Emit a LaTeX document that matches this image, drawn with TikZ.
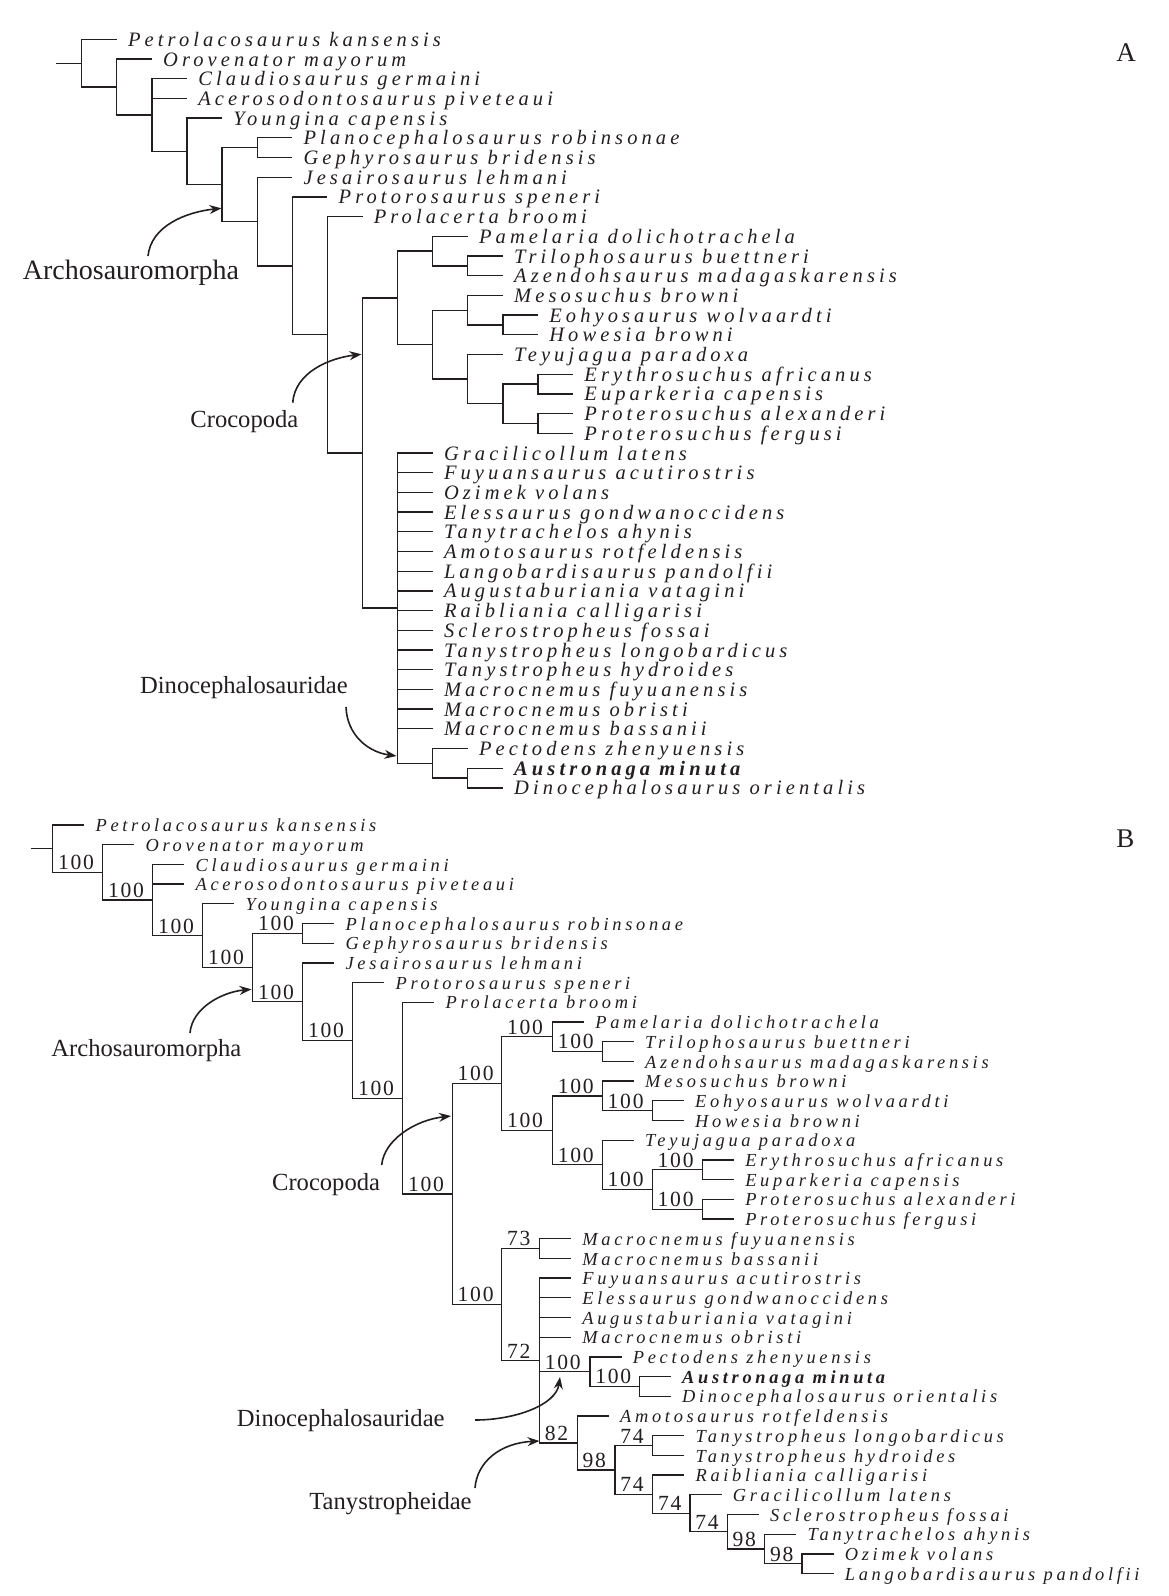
\documentclass[tikz,border=0pt]{standalone}
\usepackage{fontspec}
\setmainfont{Liberation Serif}
\newfontfamily\taxfont{Liberation Serif}[LetterSpace=20]
\newfontfamily\supfont{Liberation Serif}[LetterSpace=8]
\usetikzlibrary{calc,arrows.meta}
\definecolor{ink}{RGB}{35,31,32}
\tikzset{
  br/.style={draw=ink, line width=0.65pt, line cap=rect},
  taxon/.style={anchor=base west, inner sep=0pt, text=ink, font={\taxfont\fontsize{10.25}{12}\selectfont\itshape}},
  taxbold/.style={anchor=base west, inner sep=0pt, text=ink, font={\taxfont\fontsize{10.25}{12}\selectfont\bfseries\itshape}},
  taxonB/.style={anchor=base west, inner sep=0pt, text=ink, yshift=0.2pt, font={\taxfont\fontsize{9.2}{11}\selectfont\itshape}},
  taxboldB/.style={anchor=base west, inner sep=0pt, text=ink, yshift=0.2pt, font={\taxfont\fontsize{9.2}{11}\selectfont\bfseries\itshape}},
  sup/.style={anchor=south west, inner sep=0pt, text=ink, font={\supfont\fontsize{10.8}{12}\selectfont}},
  clade/.style={anchor=base west, inner sep=0pt, text=ink, font={\fontsize{12.3}{14}\selectfont}},
  bigclade/.style={anchor=base west, inner sep=0pt, text=ink, font={\fontsize{14}{16}\selectfont}},
  panel/.style={anchor=base west, inner sep=0pt, text=ink, font={\fontsize{13.5}{15}\selectfont}},
  cladearrow/.style={draw=ink, line width=0.8pt, -{Stealth[length=6pt,width=4.5pt]}}
}
% #1 style, #2 name, #3 parent, #4 end x, #5 y, #6 text
\newcommand{\mkleaf}[6]{%
  \coordinate (#2e) at (#4,#5);
  \draw[br] (#3 |- #2e) -- (#2e);
  \node[#1] (#2) at ($(#2e)+(11.5,7)$) {#6};}
\newcommand{\mkedge}[2]{\draw[br] (#1 |- #2) -- (#2);}
\newcommand{\mksup}[3]{%
  \draw[br] (#1 |- #2) -- (#2);
  \node[sup] (s#2) at ($(#1 |- #2)+(5,-2)$) {#3};}
\newcommand{\mkvert}[3]{\draw[br] (#1 |- #2) -- (#1 |- #3);}
\begin{document}
\begin{tikzpicture}[x=0.5pt,y=-0.5pt]
\fill[white] (0,0) rectangle (1168,1596);
\useasboundingbox (0,0) rectangle (1168,1596);

%%%%%%%%%%%%%%%% PANEL A %%%%%%%%%%%%%%%%
\node[panel] (labA) at (1116,61.7) {A};
\coordinate (rA) at (57,63.15);
\coordinate (n1A) at (81.7,63.15);
\coordinate (n2A) at (116.8,87.0);
\coordinate (n3A) at (151.9,115.03);
\coordinate (n4A) at (187.0,151.35);
\coordinate (n5A) at (222.1,184.59);
\coordinate (n6A) at (257.2,147.65);
\coordinate (n7A) at (257.2,221.53);
\coordinate (n8A) at (292.3,265.85);
\coordinate (n9A) at (327.4,334.8);
\coordinate (n10A) at (362.5,453.0);
\coordinate (crocA) at (397.6,297.87);
\coordinate (aA) at (432.7,251.08);
\coordinate (triA) at (467.8,265.85);
\coordinate (bA) at (432.7,344.65);
\coordinate (cA) at (467.8,310.18);
\coordinate (eohA) at (502.9,324.95);
\coordinate (dA) at (467.8,379.13);
\coordinate (eA) at (502.9,403.75);
\coordinate (eryA) at (538,384.05);
\coordinate (proA) at (538,423.45);
\coordinate (polyA) at (397.6,608.14);
\coordinate (dnA) at (432.7,763.28);
\coordinate (ausA) at (467.8,778.05);

\draw[br] (rA) -- (n1A);
\mkedge{n1A}{n2A}
\mkedge{n2A}{n3A}
\mkedge{n3A}{n4A}
\mkedge{n4A}{n5A}
\mkedge{n5A}{n6A}
\mkedge{n5A}{n7A}
\mkedge{n7A}{n8A}
\mkedge{n8A}{n9A}
\mkedge{n9A}{n10A}
\mkedge{n10A}{crocA}
\mkedge{n10A}{polyA}
\mkedge{crocA}{aA}
\mkedge{crocA}{bA}
\mkedge{aA}{triA}
\mkedge{bA}{cA}
\mkedge{bA}{dA}
\mkedge{cA}{eohA}
\mkedge{dA}{eA}
\mkedge{eA}{eryA}
\mkedge{eA}{proA}
\mkedge{polyA}{dnA}
\mkedge{dnA}{ausA}

\mkleaf{taxon}{a0}{n1A}{116.2}{39.3}{Petrolacosaurus kansensis}
\mkleaf{taxon}{a1}{n2A}{151.3}{59.0}{Orovenator mayorum}
\mkleaf{taxon}{a2}{n3A}{186.4}{78.7}{Claudiosaurus germaini}
\mkleaf{taxon}{a3}{n3A}{186.4}{98.4}{Acerosodontosaurus piveteaui}
\mkleaf{taxon}{a4}{n4A}{221.5}{118.1}{Youngina capensis}
\mkleaf{taxon}{a5}{n6A}{291.7}{137.8}{Planocephalosaurus robinsonae}
\mkleaf{taxon}{a6}{n6A}{291.7}{157.5}{Gephyrosaurus bridensis}
\mkleaf{taxon}{a7}{n7A}{291.7}{177.2}{Jesairosaurus lehmani}
\mkleaf{taxon}{a8}{n8A}{326.8}{196.9}{Protorosaurus speneri}
\mkleaf{taxon}{a9}{n9A}{361.9}{216.6}{Prolacerta broomi}
\mkleaf{taxon}{a10}{aA}{467.2}{236.3}{Pamelaria dolichotrachela}
\mkleaf{taxon}{a11}{triA}{502.3}{256.0}{Trilophosaurus buettneri}
\mkleaf{taxon}{a12}{triA}{502.3}{275.7}{Azendohsaurus madagaskarensis}
\mkleaf{taxon}{a13}{cA}{502.3}{295.4}{Mesosuchus browni}
\mkleaf{taxon}{a14}{eohA}{537.4}{315.1}{Eohyosaurus wolvaardti}
\mkleaf{taxon}{a15}{eohA}{537.4}{334.8}{Howesia browni}
\mkleaf{taxon}{a16}{dA}{502.3}{354.5}{Teyujagua paradoxa}
\mkleaf{taxon}{a17}{eryA}{572.5}{374.2}{Erythrosuchus africanus}
\mkleaf{taxon}{a18}{eryA}{572.5}{393.9}{Euparkeria capensis}
\mkleaf{taxon}{a19}{proA}{572.5}{413.6}{Proterosuchus alexanderi}
\mkleaf{taxon}{a20}{proA}{572.5}{433.3}{Proterosuchus fergusi}
\mkleaf{taxon}{a21}{polyA}{432.1}{453.0}{Gracilicollum latens}
\mkleaf{taxon}{a22}{polyA}{432.1}{472.7}{Fuyuansaurus acutirostris}
\mkleaf{taxon}{a23}{polyA}{432.1}{492.4}{Ozimek volans}
\mkleaf{taxon}{a24}{polyA}{432.1}{512.1}{Elessaurus gondwanoccidens}
\mkleaf{taxon}{a25}{polyA}{432.1}{531.8}{Tanytrachelos ahynis}
\mkleaf{taxon}{a26}{polyA}{432.1}{551.5}{Amotosaurus rotfeldensis}
\mkleaf{taxon}{a27}{polyA}{432.1}{571.2}{Langobardisaurus pandolfii}
\mkleaf{taxon}{a28}{polyA}{432.1}{590.9}{Augustaburiania vatagini}
\mkleaf{taxon}{a29}{polyA}{432.1}{610.6}{Raibliania calligarisi}
\mkleaf{taxon}{a30}{polyA}{432.1}{630.3}{Sclerostropheus fossai}
\mkleaf{taxon}{a31}{polyA}{432.1}{650.0}{Tanystropheus longobardicus}
\mkleaf{taxon}{a32}{polyA}{432.1}{669.7}{Tanystropheus hydroides}
\mkleaf{taxon}{a33}{polyA}{432.1}{689.4}{Macrocnemus fuyuanensis}
\mkleaf{taxon}{a34}{polyA}{432.1}{709.1}{Macrocnemus obristi}
\mkleaf{taxon}{a35}{polyA}{432.1}{728.8}{Macrocnemus bassanii}
\mkleaf{taxon}{a36}{dnA}{467.2}{748.5}{Pectodens zhenyuensis}
\mkleaf{taxbold}{a37}{ausA}{502.3}{768.2}{Austronaga minuta}
\mkleaf{taxon}{a38}{ausA}{502.3}{787.9}{Dinocephalosaurus orientalis}

\mkvert{n1A}{a0e}{n2A}
\mkvert{n2A}{a1e}{n3A}
\mkvert{n3A}{a2e}{n4A}
\mkvert{n4A}{a4e}{n5A}
\mkvert{n5A}{n6A}{n7A}
\mkvert{n6A}{a5e}{a6e}
\mkvert{n7A}{a7e}{n8A}
\mkvert{n8A}{a8e}{n9A}
\mkvert{n9A}{a9e}{n10A}
\mkvert{n10A}{crocA}{polyA}
\mkvert{crocA}{aA}{bA}
\mkvert{aA}{a10e}{triA}
\mkvert{triA}{a11e}{a12e}
\mkvert{bA}{cA}{dA}
\mkvert{cA}{a13e}{eohA}
\mkvert{eohA}{a14e}{a15e}
\mkvert{dA}{a16e}{eA}
\mkvert{eA}{eryA}{proA}
\mkvert{eryA}{a17e}{a18e}
\mkvert{proA}{a19e}{a20e}
\mkvert{polyA}{a21e}{dnA}
\mkvert{dnA}{a36e}{ausA}
\mkvert{ausA}{a37e}{a38e}

\node[bigclade] (archA) at (22.5,279) {Archosauromorpha};
\node[clade] (crocAl) at (190,427) {Crocopoda};
\node[clade] (dinoA) at (139.7,693) {Dinocephalosauridae};
\coordinate (archAs) at (148,256);
\coordinate (archAt) at (221.5,208.3);
\coordinate (crocAs) at (292.7,402.7);
\coordinate (crocAt) at (361.5,354.3);
\coordinate (dinoAs) at (346,707);
\coordinate (dinoAt) at (396.5,756);
\draw[cladearrow] (archAs) .. controls (151,226) and (186,212) .. (archAt);
\draw[cladearrow] (crocAs) .. controls (295,372) and (330,358) .. (crocAt);
\draw[cladearrow] (dinoAs) .. controls (347,735) and (368,752) .. (dinoAt);

%%%%%%%%%%%%%%%% PANEL B %%%%%%%%%%%%%%%%
\node[panel] (labB) at (1116,847.3) {B};
\coordinate (rB) at (31.7,848.68);
\coordinate (n1B) at (52.7,848.68);
\coordinate (n2B) at (102.7,872.35);
\coordinate (n3B) at (152.7,900.0);
\coordinate (n4B) at (202.7,935.65);
\coordinate (n5B) at (252.7,967.5);
\coordinate (n6B) at (302.7,933.35);
\coordinate (n7B) at (302.7,1001.64);
\coordinate (n8B) at (352.7,1040.38);
\coordinate (n9B) at (402.7,1098.17);
\coordinate (n10B) at (452.3,1194.03);
\coordinate (crocB) at (501.7,1083.56);
\coordinate (aB) at (552.5,1036.78);
\coordinate (triB) at (602.3,1051.55);
\coordinate (bB) at (552.5,1130.35);
\coordinate (cB) at (602.3,1095.88);
\coordinate (eohB) at (652.3,1110.65);
\coordinate (dB) at (602.3,1164.83);
\coordinate (eB) at (652.3,1189.45);
\coordinate (eryB) at (702.4,1169.75);
\coordinate (proB) at (702.4,1209.15);
\coordinate (lB) at (501.7,1304.5);
\coordinate (mB) at (539.5,1248.55);
\coordinate (nB) at (539.5,1360.5);
\coordinate (dnB) at (590,1371.68);
\coordinate (ausB) at (639.3,1386.45);
\coordinate (tanB) at (577.3,1442.93);
\coordinate (t2B) at (615,1469.87);
\coordinate (tlB) at (652.7,1445.55);
\coordinate (t3B) at (652.7,1494.19);
\coordinate (t4B) at (690,1513.27);
\coordinate (t5B) at (727.3,1531.74);
\coordinate (t6B) at (764.6,1548.98);
\coordinate (t7B) at (802,1563.75);

\draw[br] (rB) -- (n1B);
\mksup{n1B}{n2B}{100}
\mksup{n2B}{n3B}{100}
\mksup{n3B}{n4B}{100}
\mksup{n4B}{n5B}{100}
\mksup{n5B}{n6B}{100}
\mksup{n5B}{n7B}{100}
\mksup{n7B}{n8B}{100}
\mksup{n8B}{n9B}{100}
\mksup{n9B}{n10B}{100}
\mksup{n10B}{crocB}{100}
\mksup{crocB}{aB}{100}
\mksup{aB}{triB}{100}
\mksup{crocB}{bB}{100}
\mksup{bB}{cB}{100}
\mksup{cB}{eohB}{100}
\mksup{bB}{dB}{100}
\mksup{dB}{eB}{100}
\mksup{eB}{eryB}{100}
\mksup{eB}{proB}{100}
\mksup{n10B}{lB}{100}
\mksup{lB}{mB}{73}
\mksup{lB}{nB}{72}
\mksup{nB}{dnB}{100}
\mksup{dnB}{ausB}{100}
\mksup{nB}{tanB}{82}
\mksup{tanB}{t2B}{98}
\mksup{t2B}{tlB}{74}
\mksup{t2B}{t3B}{74}
\mksup{t3B}{t4B}{74}
\mksup{t4B}{t5B}{74}
\mksup{t5B}{t6B}{98}
\mksup{t6B}{t7B}{98}

\mkleaf{taxonB}{b0}{n1B}{83.7}{825.0}{Petrolacosaurus kansensis}
\mkleaf{taxonB}{b1}{n2B}{133.7}{844.7}{Orovenator mayorum}
\mkleaf{taxonB}{b2}{n3B}{183.7}{864.4}{Claudiosaurus germaini}
\mkleaf{taxonB}{b3}{n3B}{183.7}{884.1}{Acerosodontosaurus piveteaui}
\mkleaf{taxonB}{b4}{n4B}{233.7}{903.8}{Youngina capensis}
\mkleaf{taxonB}{b5}{n6B}{333.7}{923.5}{Planocephalosaurus robinsonae}
\mkleaf{taxonB}{b6}{n6B}{333.7}{943.2}{Gephyrosaurus bridensis}
\mkleaf{taxonB}{b7}{n7B}{333.7}{962.9}{Jesairosaurus lehmani}
\mkleaf{taxonB}{b8}{n8B}{383.7}{982.6}{Protorosaurus speneri}
\mkleaf{taxonB}{b9}{n9B}{433.7}{1002.3}{Prolacerta broomi}
\mkleaf{taxonB}{b10}{aB}{583.5}{1022.0}{Pamelaria dolichotrachela}
\mkleaf{taxonB}{b11}{triB}{633.3}{1041.7}{Trilophosaurus buettneri}
\mkleaf{taxonB}{b12}{triB}{633.3}{1061.4}{Azendohsaurus madagaskarensis}
\mkleaf{taxonB}{b13}{cB}{633.3}{1081.1}{Mesosuchus browni}
\mkleaf{taxonB}{b14}{eohB}{683.3}{1100.8}{Eohyosaurus wolvaardti}
\mkleaf{taxonB}{b15}{eohB}{683.3}{1120.5}{Howesia browni}
\mkleaf{taxonB}{b16}{dB}{633.3}{1140.2}{Teyujagua paradoxa}
\mkleaf{taxonB}{b17}{eryB}{733.4}{1159.9}{Erythrosuchus africanus}
\mkleaf{taxonB}{b18}{eryB}{733.4}{1179.6}{Euparkeria capensis}
\mkleaf{taxonB}{b19}{proB}{733.4}{1199.3}{Proterosuchus alexanderi}
\mkleaf{taxonB}{b20}{proB}{733.4}{1219.0}{Proterosuchus fergusi}
\mkleaf{taxonB}{b21}{mB}{570.5}{1238.7}{Macrocnemus fuyuanensis}
\mkleaf{taxonB}{b22}{mB}{570.5}{1258.4}{Macrocnemus bassanii}
\mkleaf{taxonB}{b23}{nB}{570.5}{1278.1}{Fuyuansaurus acutirostris}
\mkleaf{taxonB}{b24}{nB}{570.5}{1297.8}{Elessaurus gondwanoccidens}
\mkleaf{taxonB}{b25}{nB}{570.5}{1317.5}{Augustaburiania vatagini}
\mkleaf{taxonB}{b26}{nB}{570.5}{1337.2}{Macrocnemus obristi}
\mkleaf{taxonB}{b27}{dnB}{621.0}{1356.9}{Pectodens zhenyuensis}
\mkleaf{taxboldB}{b28}{ausB}{670.3}{1376.6}{Austronaga minuta}
\mkleaf{taxonB}{b29}{ausB}{670.3}{1396.3}{Dinocephalosaurus orientalis}
\mkleaf{taxonB}{b30}{tanB}{608.3}{1416.0}{Amotosaurus rotfeldensis}
\mkleaf{taxonB}{b31}{tlB}{683.7}{1435.7}{Tanystropheus longobardicus}
\mkleaf{taxonB}{b32}{tlB}{683.7}{1455.4}{Tanystropheus hydroides}
\mkleaf{taxonB}{b33}{t3B}{683.7}{1475.1}{Raibliania calligarisi}
\mkleaf{taxonB}{b34}{t4B}{721.0}{1494.8}{Gracilicollum latens}
\mkleaf{taxonB}{b35}{t5B}{758.3}{1514.5}{Sclerostropheus fossai}
\mkleaf{taxonB}{b36}{t6B}{795.6}{1534.2}{Tanytrachelos ahynis}
\mkleaf{taxonB}{b37}{t7B}{833.0}{1553.9}{Ozimek volans}
\mkleaf{taxonB}{b38}{t7B}{833.0}{1573.6}{Langobardisaurus pandolfii}

\mkvert{n1B}{b0e}{n2B}
\mkvert{n2B}{b1e}{n3B}
\mkvert{n3B}{b2e}{n4B}
\mkvert{n4B}{b4e}{n5B}
\mkvert{n5B}{n6B}{n7B}
\mkvert{n6B}{b5e}{b6e}
\mkvert{n7B}{b7e}{n8B}
\mkvert{n8B}{b8e}{n9B}
\mkvert{n9B}{b9e}{n10B}
\mkvert{n10B}{crocB}{lB}
\mkvert{crocB}{aB}{bB}
\mkvert{aB}{b10e}{triB}
\mkvert{triB}{b11e}{b12e}
\mkvert{bB}{cB}{dB}
\mkvert{cB}{b13e}{eohB}
\mkvert{eohB}{b14e}{b15e}
\mkvert{dB}{b16e}{eB}
\mkvert{eB}{eryB}{proB}
\mkvert{eryB}{b17e}{b18e}
\mkvert{proB}{b19e}{b20e}
\mkvert{lB}{mB}{nB}
\mkvert{mB}{b21e}{b22e}
\mkvert{nB}{b23e}{tanB}
\mkvert{dnB}{b27e}{ausB}
\mkvert{ausB}{b28e}{b29e}
\mkvert{tanB}{b30e}{t2B}
\mkvert{t2B}{tlB}{t3B}
\mkvert{tlB}{b31e}{b32e}
\mkvert{t3B}{b33e}{t4B}
\mkvert{t4B}{b34e}{t5B}
\mkvert{t5B}{b35e}{t6B}
\mkvert{t6B}{b36e}{t7B}
\mkvert{t7B}{b37e}{b38e}

\node[clade] (archB) at (51,1056) {Archosauromorpha};
\node[clade] (crocBl) at (271.7,1190) {Crocopoda};
\node[clade,anchor=base east] (dinoB) at (445,1426) {Dinocephalosauridae};
\node[clade] (tanyB) at (309,1509) {Tanystropheidae};
\coordinate (archBs) at (190,1033);
\coordinate (archBt) at (251.5,989.3);
\coordinate (crocBs) at (381.7,1165);
\coordinate (crocBt) at (451,1116);
\coordinate (dinoBs) at (475,1420);
\coordinate (dinoBt) at (560,1377);
\coordinate (tanyBs) at (475,1488);
\coordinate (tanyBt) at (539.5,1441);
\draw[cladearrow] (archBs) .. controls (192,1008) and (222,992) .. (archBt);
\draw[cladearrow] (crocBs) .. controls (384,1140) and (415,1120) .. (crocBt);
\draw[cladearrow] (dinoBs) .. controls (515,1420) and (556,1405) .. (dinoBt);
\draw[cladearrow] (tanyBs) .. controls (477,1462) and (500,1443) .. (tanyBt);
\end{tikzpicture}
\end{document}
